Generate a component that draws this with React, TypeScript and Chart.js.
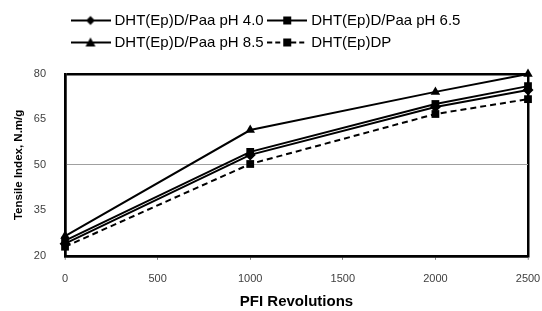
import React, { useEffect, useRef } from "react";
import { Chart, registerables } from "chart.js";

Chart.register(...registerables);

const xValues = [0, 1000, 2000, 2500];
const seriesLabels = [
  "DHT(Ep)D/Paa pH 4.0",
  "DHT(Ep)D/Paa pH 6.5",
  "DHT(Ep)D/Paa pH 8.5",
  "DHT(Ep)DP",
];
const ph40 = [24, 53.3, 69.1, 74.7];
const ph65 = [25, 54.3, 70.1, 76];
const ph85 = [26.5, 61.5, 74.1, 80];
const dp = [23, 50.3, 66.8, 71.7];
const yTicks = [20, 35, 50, 65, 80];
const xTicks = [0, 500, 1000, 1500, 2000, 2500];

const FONT = "'Liberation Sans', Arial, sans-serif";

function makeIcon(style: string, dashed: boolean): HTMLCanvasElement {
  const c = document.createElement("canvas");
  c.width = 40;
  c.height = 12;
  const g = c.getContext("2d")!;
  g.strokeStyle = "#000";
  g.fillStyle = "#000";
  g.lineWidth = 2;
  if (dashed) g.setLineDash([5, 3]);
  g.beginPath();
  g.moveTo(0, 6);
  g.lineTo(40, 6);
  g.stroke();
  g.setLineDash([]);
  g.beginPath();
  const cx = 20;
  if (style === "rect") {
    g.rect(cx - 4, 2, 8, 8);
  } else if (style === "rectRot") {
    g.moveTo(cx, 1.5);
    g.lineTo(cx + 4.5, 6);
    g.lineTo(cx, 10.5);
    g.lineTo(cx - 4.5, 6);
    g.closePath();
  } else {
    g.moveTo(cx, 1);
    g.lineTo(cx + 5, 10);
    g.lineTo(cx - 5, 10);
    g.closePath();
  }
  g.fill();
  return c;
}

export default function App() {
  const ref = useRef<HTMLCanvasElement | null>(null);
  useEffect(() => {
    if (!ref.current) return;
    const styles = ["rectRot", "rect", "triangle", "rect"];
    const icons = styles.map((s, i) => makeIcon(s, i === 3));
    const seriesData = [ph40, ph65, ph85, dp];
    const legendShift = {
      id: "legendShift",
      afterLayout(chart: any) {
        const l = chart.legend;
        if (l) {
          l.left += 55;
          l.top -= 14;
        }
      },
    };
    const chart = new Chart(ref.current, {
      type: "line",
      data: {
        datasets: seriesData.map((arr, i) => ({
          label: seriesLabels[i],
          data: arr.map((v, j) => ({ x: xValues[j], y: v })),
          borderColor: "#000",
          backgroundColor: "#000",
          borderWidth: 2,
          borderDash: i === 3 ? [6, 4] : [],
          pointStyle: styles[i] as any,
          pointRadius: 5.5,
          pointBorderWidth: 0,
          pointBackgroundColor: "#000",
          tension: 0,
          clip: false as any,
        })),
      },
      options: {
        animation: false,
        responsive: true,
        maintainAspectRatio: false,
        layout: { padding: { top: 20, left: 12, right: 0, bottom: 0 } },
        plugins: {
          tooltip: { enabled: false },
          legend: {
            display: true,
            position: "top",
            align: "start",
            labels: {
              usePointStyle: true,
              pointStyleWidth: 33,
              padding: 7,
              color: "#000",
              font: { family: FONT, size: 15 },
              generateLabels: (ch: any) => {
                const items = (Chart.defaults.plugins.legend.labels as any).generateLabels(ch);
                return items.map((it: any, i: number) => ({ ...it, pointStyle: icons[i], lineWidth: 0 }));
              },
            },
          },
        },
        scales: {
          x: {
            type: "linear",
            min: 0,
            max: 2500,
            afterBuildTicks: (s: any) => {
              s.ticks = xTicks.map((v) => ({ value: v }));
            },
            afterFit: (s: any) => {
              s.paddingRight = 14;
            },
            ticks: {
              color: "#404040",
              font: { family: FONT, size: 11 },
              padding: 13,
              callback: (v: any) => String(v),
            },
            grid: {
              drawOnChartArea: true,
              color: (c: any) => (c.tick && (c.tick.value === 0 || c.tick.value === 2500) ? "#000" : "rgba(0,0,0,0)"),
              lineWidth: (c: any) => (c.tick && (c.tick.value === 0 || c.tick.value === 2500) ? 2.5 : 1),
              tickColor: "#808080",
              tickWidth: 1,
              tickLength: 4,
            },
            border: { display: true, color: "#000", width: 2.5 },
            title: {
              display: true,
              text: "PFI Revolutions",
              color: "#000",
              font: { family: FONT, size: 15, weight: "bold" },
              padding: { top: -6, bottom: 0 },
            },
          },
          y: {
            type: "linear",
            min: 20,
            max: 80,
            afterBuildTicks: (s: any) => {
              s.ticks = yTicks.map((v) => ({ value: v }));
            },
            ticks: {
              color: "#404040",
              font: { family: FONT, size: 11 },
              padding: 19,
              callback: (v: any) => String(v),
            },
            grid: {
              drawTicks: false,
              color: (c: any) => {
                const v = c.tick && c.tick.value;
                if (v === 50) return "#a0a0a0";
                if (v === 20 || v === 80) return "#000";
                return "rgba(0,0,0,0)";
              },
              lineWidth: (c: any) => {
                const v = c.tick && c.tick.value;
                return v === 20 || v === 80 ? 2.5 : 1;
              },
            },
            border: { display: true, color: "#000", width: 2.5 },
            title: {
              display: true,
              text: "Tensile Index, N.m/g",
              color: "#000",
              font: { family: FONT, size: 11.5, weight: "bold" },
              padding: { top: 0, bottom: -11 },
            },
          },
        },
      },
      plugins: [legendShift],
    });
    return () => chart.destroy();
  }, []);
  return (
    <div style={{ position: "absolute", left: 0, top: 0, width: 542, height: 311 }}>
      <canvas ref={ref} />
    </div>
  );
}
